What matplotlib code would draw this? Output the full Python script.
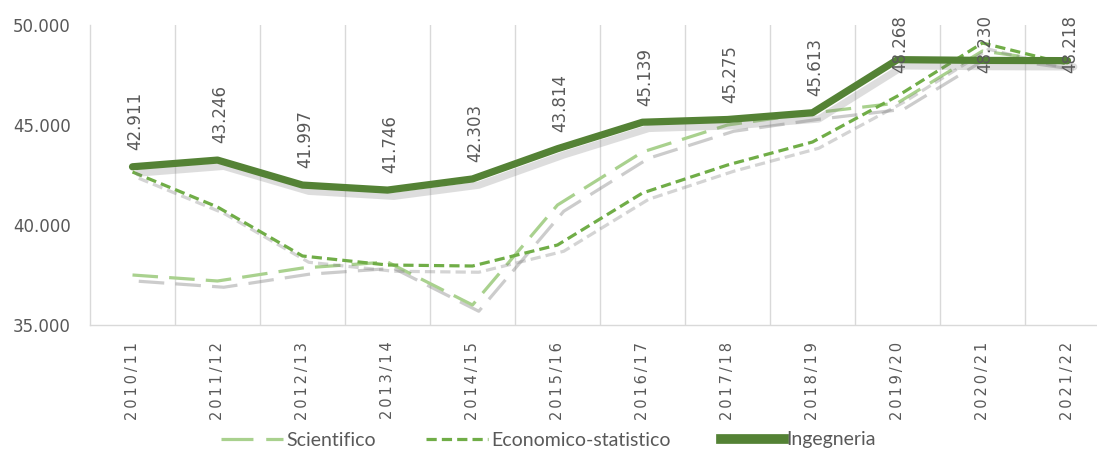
import matplotlib
matplotlib.use("Agg")
import matplotlib.pyplot as plt
import matplotlib.patheffects as pe
from matplotlib.lines import Line2D
from matplotlib.ticker import FixedLocator, FuncFormatter

years = ["2010/11", "2011/12", "2012/13", "2013/14", "2014/15", "2015/16",
         "2016/17", "2017/18", "2018/19", "2019/20", "2020/21", "2021/22"]
scientifico = [37500, 37200, 37850, 38150, 36000, 41000,
               43650, 45000, 45600, 46100, 48700, 48100]
economico = [42650, 40900, 38450, 38000, 37950, 39000,
             41600, 43000, 44150, 46450, 49100, 48050]
ingegneria = [42911, 43246, 41997, 41746, 42303, 43814,
              45139, 45275, 45613, 48268, 48230, 48218]

text_col = "#595959"
grid_col = "#d9d9d9"

fig = plt.figure(figsize=(10.97, 4.51), dpi=100)
ax = fig.add_axes([90 / 1097, 1 - 325 / 451, 1020 / 1097, 300 / 451])

x = list(range(len(years)))


def shadow(a):
    return [pe.SimpleLineShadow(offset=(4.5, -4.5), shadow_color="#7a7a7a", alpha=a), pe.Normal()]


styles = {
    "Scientifico": dict(color="#a9d18e", lw=2.3, dashes=(8, 3.5)),
    "Economico-statistico": dict(color="#70ad47", lw=2.3, dashes=(3.2, 1.6)),
    "Ingegneria": dict(color="#548235", lw=5.2),
}

ax.plot(x, scientifico, path_effects=shadow(0.38), zorder=3, **styles["Scientifico"])
ax.plot(x, economico, path_effects=shadow(0.32), zorder=4, **styles["Economico-statistico"])
ax.plot(x, ingegneria, path_effects=shadow(0.25), zorder=5, solid_capstyle="round",
        **styles["Ingegneria"])

for xi, v in zip(x, ingegneria):
    lab = f"{v:,}".replace(",", ".")
    if v > 46500:
        # label would run off the top: pin it to the top edge like the original
        ax.annotate(lab, (xi, 1.0), xycoords=("data", "axes fraction"),
                    xytext=(2, 7), textcoords="offset points",
                    rotation=90, ha="center", va="top", fontsize=12,
                    color=text_col, zorder=6, annotation_clip=False)
    else:
        ax.annotate(lab, (xi, v), xytext=(2, 12), textcoords="offset points",
                    rotation=90, ha="center", va="bottom", fontsize=12,
                    color=text_col, zorder=6)

ax.set_xlim(-0.5, len(years) - 0.5)
ax.set_ylim(35000, 50000)
ax.yaxis.set_major_locator(FixedLocator([35000, 40000, 45000, 50000]))
ax.yaxis.set_major_formatter(FuncFormatter(lambda v, p: f"{int(v):,}".replace(",", ".")))
ax.tick_params(axis="y", length=0, pad=14, labelsize=12, labelcolor=text_col)

ax.set_xticks(x)
ax.set_xticklabels(["\u2009".join(y) for y in years], rotation=90,
                   fontsize=10.5, color=text_col, va="top", ha="center")
ax.tick_params(axis="x", length=0, pad=12)
ax.xaxis.set_minor_locator(FixedLocator([i - 0.5 for i in range(1, len(years))]))
ax.tick_params(axis="x", which="minor", length=0)
ax.grid(axis="x", which="minor", color=grid_col, lw=1)
ax.grid(axis="x", which="major", visible=False)

for s in ["top", "right"]:
    ax.spines[s].set_visible(False)
for s in ["left", "bottom"]:
    ax.spines[s].set_color(grid_col)
    ax.spines[s].set_linewidth(1)

handles = [Line2D([], [], **st) for st in styles.values()]
handles[0].set_dashes((10, 4))
handles[2].set_linewidth(7)
fig.legend(handles, list(styles.keys()), loc="center", bbox_to_anchor=(0.5, 1 - 440 / 451),
           ncol=3, frameon=False, handlelength=3.2, handletextpad=0.15,
           columnspacing=2.6, prop={"family": ["Lato", "DejaVu Sans"], "size": 14},
           labelcolor=text_col)

fig.savefig("out.png", dpi=100)
